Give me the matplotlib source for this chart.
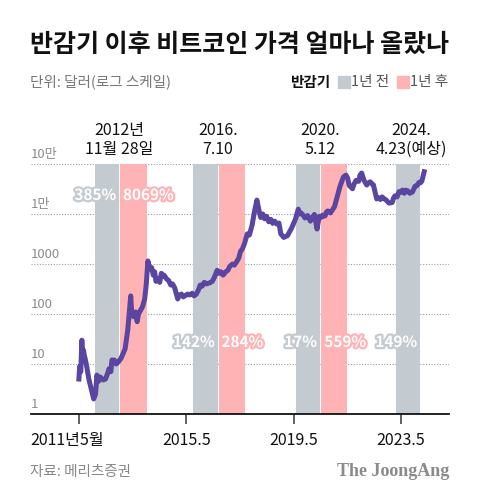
import matplotlib
matplotlib.use("Agg")
import matplotlib.pyplot as plt
import matplotlib.patheffects as pe
from matplotlib.patches import Rectangle
from matplotlib.transforms import blended_transform_factory, ScaledTranslation

plt.rcParams['font.family'] = ['Noto Sans CJK KR', 'DejaVu Sans']

# bitcoin price (USD), decimal year
years = [2011.33, 2011.36, 2011.40, 2011.44, 2011.47, 2011.50, 2011.53, 2011.56, 2011.62, 2011.70,
         2011.80, 2011.88, 2011.95, 2012.00, 2012.06, 2012.12, 2012.17, 2012.24, 2012.32, 2012.40,
         2012.45, 2012.52, 2012.56, 2012.65, 2012.72, 2012.80, 2012.90, 2013.05, 2013.15, 2013.26,
         2013.30, 2013.37, 2013.44, 2013.50, 2013.55, 2013.63, 2013.70, 2013.78, 2013.84, 2013.90,
         2013.94, 2013.98, 2014.04, 2014.10, 2014.15, 2014.20, 2014.28, 2014.34, 2014.40, 2014.45,
         2014.50, 2014.60, 2014.67, 2014.75, 2014.82, 2014.90, 2015.01, 2015.08, 2015.15, 2015.22,
         2015.30, 2015.38, 2015.45, 2015.55, 2015.62, 2015.70, 2015.78, 2015.85, 2015.92, 2016.00,
         2016.08, 2016.20, 2016.30, 2016.38, 2016.48, 2016.55, 2016.62, 2016.70, 2016.80, 2016.88,
         2016.95, 2017.05, 2017.12, 2017.20, 2017.28, 2017.35, 2017.42, 2017.50, 2017.60, 2017.68,
         2017.78, 2017.88, 2017.96, 2018.05, 2018.10, 2018.18, 2018.25, 2018.32, 2018.40, 2018.48,
         2018.55, 2018.62, 2018.70, 2018.78, 2018.85, 2018.96, 2019.10, 2019.25, 2019.40, 2019.50,
         2019.55, 2019.60, 2019.68, 2019.75, 2019.85, 2019.95, 2020.02, 2020.10, 2020.20, 2020.28,
         2020.34, 2020.40, 2020.45, 2020.50, 2020.55, 2020.60, 2020.70, 2020.85, 2020.95, 2021.05,
         2021.18, 2021.28, 2021.34, 2021.40, 2021.52, 2021.58, 2021.65, 2021.75, 2021.80, 2021.86,
         2021.95, 2022.05, 2022.12, 2022.18, 2022.25, 2022.30, 2022.42, 2022.50, 2022.56, 2022.62,
         2022.70, 2022.75, 2022.88, 2023.00, 2023.05, 2023.10, 2023.18, 2023.25, 2023.32, 2023.38,
         2023.45, 2023.50, 2023.58, 2023.65, 2023.75, 2023.85, 2023.92, 2024.00, 2024.05, 2024.10,
         2024.19]
price = [5, 9, 7, 30, 14, 19, 15, 13, 9, 5,
         3, 2.0, 2.5, 6, 4.5, 5.5, 5.2, 4.8, 5, 6.5,
         8, 7, 12, 12, 10, 11, 13, 20, 48, 230,
         100, 88, 110, 70, 100, 120, 140, 200, 400, 1150,
         900, 800, 850, 600, 700, 450, 500, 430, 650, 560,
         600, 500, 470, 380, 400, 330, 200, 240, 250, 220,
         235, 250, 240, 260, 230, 250, 300, 380, 360, 430,
         400, 420, 450, 550, 750, 650, 700, 600, 700, 750,
         900, 1000, 950, 1100, 1300, 1800, 2000, 2600, 4000, 3800,
         6000, 12000, 19000, 11000, 8500, 10000, 8000, 9000, 7000, 7800,
         6500, 7200, 6300, 6600, 4000, 3400, 3700, 5200, 8000, 12500,
         10000, 10500, 9500, 8300, 9300, 7200, 8500, 9800, 5000, 9000,
         8500, 9500, 9000, 9200, 11000, 11500, 10500, 14000, 22000, 35000,
         55000, 60000, 52000, 37000, 32000, 40000, 47000, 45000, 60000, 66000,
         47000, 38000, 42000, 44000, 40000, 38000, 20000, 21000, 19500, 22000,
         20000, 19500, 16500, 17000, 21000, 23000, 22000, 28000, 27000, 30000,
         26000, 30000, 29000, 26000, 27500, 36000, 37000, 43000, 42000, 45000,
         70000]

# halving windows: 1 year before (gray) / after (pink)
gray_start = [2011.92, 2015.59, 2019.40, 2023.15]
gray_end = [2012.84, 2016.50, 2020.31, 2024.04]
pink_start = [2012.86, 2016.53, 2020.36]
pink_end = [2013.86, 2017.53, 2021.30]
gray_pct = ['385%', '142%', '17%', '149%']
pink_pct = ['8069%', '284%', '559%']
halving_labels = ['2012년\n11월 28일', '2016.\n7.10', '2020.\n5.12', '2024.\n4.23(예상)']

xtick_pos = [2011.33, 2015.33, 2019.33, 2023.33]
xtick_labels = ['2011년5월', '2015.5', '2019.5', '2023.5']
ytick_pos = [1, 10, 100, 1000, 10000, 100000]
ytick_labels = ['1', '10', '100', '1000', '1만', '10만']

GRAY = '#c3cad0'
PINK = '#ffb3b5'
PURPLE = '#5a46a0'

fig = plt.figure(figsize=(4.8, 4.99), dpi=100)
W, H = 480, 499
ax = fig.add_axes([31 / W, 1 - 414 / H, 418 / W, 250 / H])
ax.set_yscale('log')
ax.set_ylim(1, 100000)
ax.set_xlim(2009.546, 2025.114)

for s, e in zip(gray_start, gray_end):
    ax.axvspan(s, e, color=GRAY, lw=0, zorder=1)
for s, e in zip(pink_start, pink_end):
    ax.axvspan(s, e, color=PINK, lw=0, zorder=1)

for v in ytick_pos[1:]:
    ax.axhline(v, color='#9a9a9a', lw=0.8, ls=(0, (1, 1.5)), zorder=0.5)

ax.plot(years, price, color=PURPLE, lw=3.6, solid_joinstyle='round', zorder=3)

for sp in ['left', 'right', 'top']:
    ax.spines[sp].set_visible(False)
ax.spines['bottom'].set_color('#111111')
ax.spines['bottom'].set_linewidth(1.3)
ax.set_yticks([])
ax.minorticks_off()
ax.set_xticks(xtick_pos)
ax.set_xticklabels(xtick_labels, fontsize=11.5, color='#111111')
ax.tick_params(axis='x', direction='out', length=7, width=1.3, color='#555555', pad=6)
lab0 = ax.get_xticklabels()[0]
lab0.set_transform(lab0.get_transform() + ScaledTranslation(-12 / 100, 0, fig.dpi_scale_trans))

ytr = blended_transform_factory(ax.transAxes, ax.transData)
for v, t in zip(ytick_pos, ytick_labels):
    ax.text(0.0, v, t, transform=ytr + ScaledTranslation(0, 3 / 100, fig.dpi_scale_trans),
            ha='left', va='bottom', fontsize=9.5, color='#8c8c8c')

# halving date labels above the plot
xtr = blended_transform_factory(ax.transData, ax.transAxes)
for i, (e, t) in enumerate(zip(gray_end, halving_labels)):
    dx = -9 / 100 if i == len(halving_labels) - 1 else 0
    ax.text(e, 1.0, t, transform=xtr + ScaledTranslation(dx, 6 / 100, fig.dpi_scale_trans),
            ha='center', va='bottom', fontsize=11.5, color='#111111', linespacing=1.15)

# percentage labels
rows = [0.876, 0.288, 0.288, 0.288]
for i, (e, t) in enumerate(zip(gray_end, gray_pct)):
    ax.text(e, rows[i], t, transform=xtr + ScaledTranslation(-3 / 100, 0, fig.dpi_scale_trans),
            ha='right', va='center', fontsize=11, fontweight='bold', color='white', zorder=5,
            path_effects=[pe.withStroke(linewidth=3.2, foreground=GRAY)])
for i, (s, t) in enumerate(zip(pink_start, pink_pct)):
    ax.text(s, rows[i], t, transform=xtr + ScaledTranslation(3 / 100, 0, fig.dpi_scale_trans),
            ha='left', va='center', fontsize=11, fontweight='bold', color='white', zorder=5,
            path_effects=[pe.withStroke(linewidth=3.2, foreground=PINK)])

# header
fig.text(30 / W, 1 - 45 / H, '반감기 이후 비트코인 가격 얼마나 올랐나', fontsize=18,
         fontweight='bold', color='#111111', va='center', ha='left')
fig.text(30 / W, 1 - 82 / H, '단위: 달러(로그 스케일)', fontsize=10.5, color='#777777',
         va='center', ha='left')
fig.text(290 / W, 1 - 82 / H, '반감기', fontsize=10.5, fontweight='bold', color='#111111',
         va='center', ha='left')
fig.patches.append(Rectangle((338 / W, 1 - 88 / H), 12 / W, 12 / H, color=GRAY,
                             transform=fig.transFigure, figure=fig))
fig.text(351 / W, 1 - 82 / H, '1년 전', fontsize=10.5, color='#555555', va='center', ha='left')
fig.patches.append(Rectangle((397 / W, 1 - 88 / H), 12 / W, 12 / H, color=PINK,
                             transform=fig.transFigure, figure=fig))
fig.text(410 / W, 1 - 82 / H, '1년 후', fontsize=10.5, color='#555555', va='center', ha='left')

# footer
fig.text(30 / W, 1 - 472 / H, '자료: 메리츠증권', fontsize=10.5, color='#888888',
         va='center', ha='left')
fig.text(449 / W, 1 - 472 / H, 'The JoongAng', fontsize=13, fontweight='bold',
         family='Liberation Serif', color='#8a8a8a', va='center', ha='right')

fig.savefig('out.png', dpi=100)
